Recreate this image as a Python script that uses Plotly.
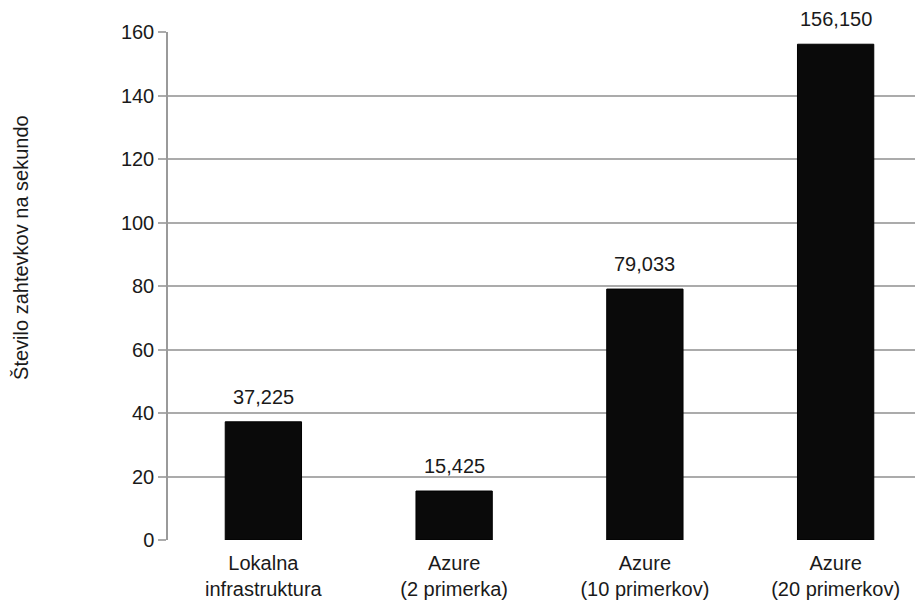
import plotly.graph_objects as go

categories = ["Lokalna<br>infrastruktura", "Azure<br>(2 primerka)", "Azure<br>(10 primerkov)", "Azure<br>(20 primerkov)"]
values = [37.225, 15.425, 79.033, 156.150]
y_ticks = [0, 20, 40, 60, 80, 100, 120, 140, 160]
y_title = "Število zahtevkov na sekundo"

font_family = "Liberation Sans, Arial, Helvetica, sans-serif"
text_color = "#1a1a1a"
fs = 20

fig = go.Figure()
fig.add_trace(go.Bar(
    x=list(range(len(categories))),
    y=values,
    marker=dict(color="#0a0a0a", line=dict(color="#000000", width=1)),
    width=0.4,
    hoverinfo="skip",
))

for i, v in enumerate(values):
    fig.add_annotation(
        x=i, y=v, text=f"{v:.3f}".replace(".", ","),
        showarrow=False, yanchor="middle", yshift=25,
        font=dict(size=fs, color=text_color, family=font_family),
    )

# y-axis title (placed slightly above centre, as in the reference)
fig.add_annotation(
    xref="paper", yref="paper", x=-0.192, y=0.576,
    text=y_title, textangle=-90, showarrow=False,
    xanchor="center", yanchor="middle",
    font=dict(size=fs, color=text_color, family=font_family),
)

fig.update_layout(
    width=923, height=600,
    margin=dict(l=160, r=0, t=24, b=68),
    plot_bgcolor="white", paper_bgcolor="white",
    showlegend=False,
    font=dict(family=font_family, size=fs, color=text_color),
    xaxis=dict(
        range=[-0.5, 3.5],
        tickmode="array",
        tickvals=list(range(len(categories))),
        ticktext=categories,
        showgrid=False,
        showline=False,
        zeroline=False,
        ticks="",
        ticklabelstandoff=9,
        tickfont=dict(size=fs, color=text_color),
        automargin=False,
    ),
    yaxis=dict(
        range=[0, 160],
        tickmode="array",
        tickvals=y_ticks,
        showgrid=True,
        gridcolor="#ababab",
        gridwidth=1.5,
        zeroline=False,
        showline=True,
        linecolor="#9a9a9a",
        linewidth=1.5,
        ticks="outside",
        ticklen=8,
        tickcolor="#ababab",
        tickwidth=1.5,
        tickfont=dict(size=fs, color=text_color),
        automargin=False,
    ),
)

fig.write_html("out.html")
